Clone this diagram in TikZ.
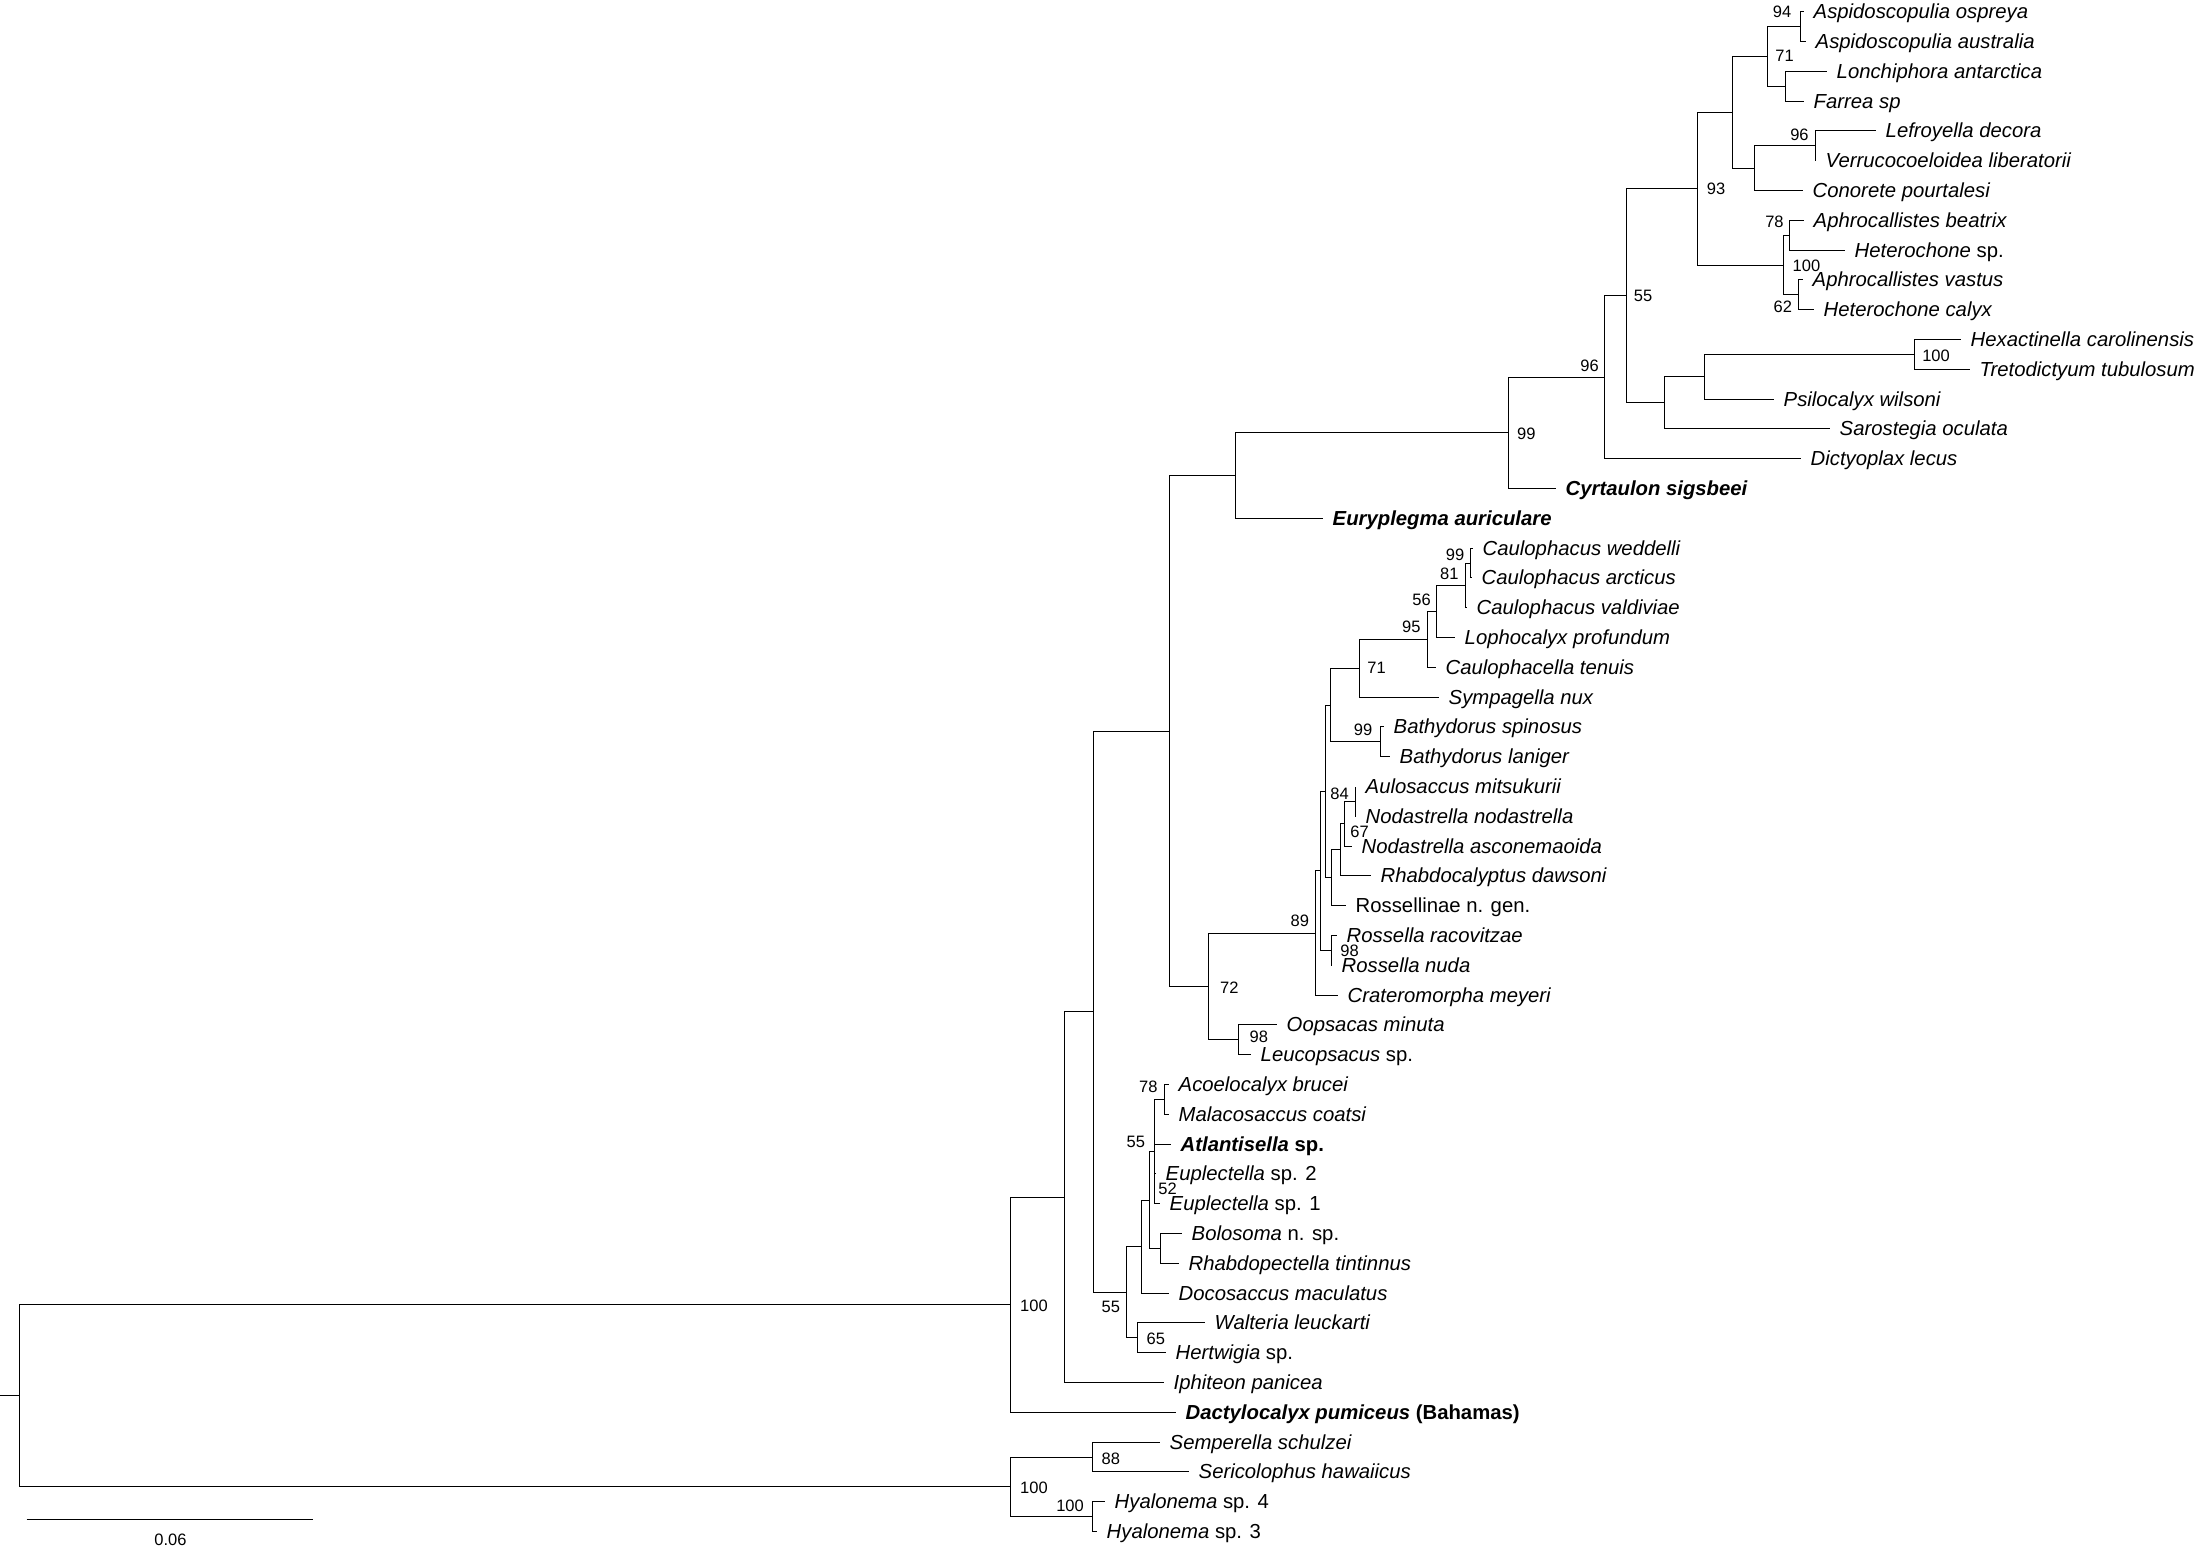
\documentclass[tikz,border=0pt]{standalone}
\usepackage{fontspec}
\setmainfont{Liberation Sans}
\newcommand\nd[3]{\pgfmathsetmacro\ndx{floor(#2)+0.5}\pgfmathsetmacro\ndy{floor(#3)+0.5}\coordinate (#1) at (\ndx,\ndy);}
\begin{document}
\begin{tikzpicture}[x=1bp,y=-1bp,
  br/.style={line width=1.3bp},
  tx/.style={anchor=base west, inner sep=0pt, xshift=10bp, yshift=-7bp, font=\fontsize{20.3bp}{24bp}\selectfont},
  bs/.style={anchor=base, inner sep=0pt, font=\fontsize{16.5bp}{19bp}\selectfont}]
\fill[white] (0,0) rectangle (2198,1553);
\useasboundingbox (0,0) rectangle (2198,1553);
% tips
\nd{t1}{1803.8}{11.7}
\nd{t2}{1805.5}{41.5}
\nd{t3}{1826.5}{71.3}
\nd{t4}{1803.8}{101.1}
\nd{t5}{1875.4}{130.9}
\nd{t6}{1815.5}{160.7}
\nd{t7}{1802}{190.5}
\nd{t8}{1803.8}{220.3}
\nd{t9}{1844}{250.1}
\nd{t10}{1802.7}{279.9}
\nd{t11}{1813.2}{309.7}
\nd{t12}{1960.8}{339.5}
\nd{t13}{1969.7}{369.3}
\nd{t14}{1773.8}{399.1}
\nd{t15}{1829.5}{428.9}
\nd{t16}{1800.5}{458.7}
\nd{t17}{1555}{488.5}
\nd{t18}{1322.3}{518.3}
\nd{t19}{1472}{548.1}
\nd{t20}{1471.5}{577.9}
\nd{t21}{1466}{607.7}
\nd{t22}{1454.1}{637.5}
\nd{t23}{1435}{667.3}
\nd{t24}{1438.8}{697.1}
\nd{t25}{1383.3}{726.9}
\nd{t26}{1389.1}{756.7}
\nd{t27}{1355.5}{786.5}
\nd{t28}{1355.5}{816.3}
\nd{t29}{1351.4}{846.1}
\nd{t30}{1370.6}{875.9}
\nd{t31}{1345.7}{905.7}
\nd{t32}{1336.1}{935.5}
\nd{t33}{1331.5}{965.3}
\nd{t34}{1337.3}{995.1}
\nd{t35}{1276.8}{1024.9}
\nd{t36}{1250}{1054.7}
\nd{t37}{1168.3}{1084.5}
\nd{t38}{1168.3}{1114.3}
\nd{t39}{1170}{1144.1}
\nd{t40}{1155}{1173.9}
\nd{t41}{1159.3}{1203.7}
\nd{t42}{1181}{1233.5}
\nd{t43}{1178.3}{1263.3}
\nd{t44}{1168.3}{1293.1}
\nd{t45}{1204}{1322.9}
\nd{t46}{1165}{1352.7}
\nd{t47}{1163.3}{1382.5}
\nd{t48}{1175}{1412.3}
\nd{t49}{1159.3}{1442.1}
\nd{t50}{1188.3}{1471.9}
\nd{t51}{1104.3}{1501.7}
\nd{t52}{1096.7}{1531.5}
% internal nodes
\nd{A}{1800.3}{26.6}
\nd{C}{1785.6}{86.2}
\nd{B}{1767.1}{56.4}
\nd{F}{1815}{145.8}
\nd{E}{1754.2}{168.2}
\nd{D}{1732.1}{112.3}
\nd{I}{1789.8}{235.2}
\nd{J}{1798.5}{294.8}
\nd{H}{1783.9}{265}
\nd{G}{1697.2}{188.65}
\nd{P}{1914}{354.4}
\nd{O}{1704.8}{376.75}
\nd{M}{1664.7}{402.8}
\nd{L}{1626}{295.7}
\nd{K}{1604.6}{377.2}
\nd{N}{1508}{432.85}
\nd{Q}{1235.3}{475.6}
\nd{Ca}{1470.6}{563}
\nd{Cb}{1465.6}{585.35}
\nd{Cc}{1436.9}{611.4}
\nd{Cd}{1427.3}{639.35}
\nd{Ce}{1359.2}{668.2}
\nd{Bd}{1380.3}{741.8}
\nd{Cf}{1330.9}{705}
\nd{Na}{1355.2}{801.4}
\nd{Nb}{1344.9}{823.75}
\nd{Nc}{1340.7}{849.8}
\nd{Nd}{1331.5}{877.75}
\nd{Ne}{1325.8}{791.4}
\nd{Ro}{1331.1}{950.4}
\nd{Nf}{1320.8}{870.9}
\nd{Ng}{1315.8}{933}
\nd{OL}{1238}{1039.8}
\nd{S}{1208.4}{986.4}
\nd{R}{1169.6}{731}
\nd{Am}{1164.3}{1099.4}
\nd{Eu}{1154.3}{1151.5}
\nd{Bo}{1160}{1248.4}
\nd{Ef}{1149.3}{1200}
\nd{Dg}{1141.7}{1246.6}
\nd{W}{1137.7}{1337.8}
\nd{Z}{1126}{1292.2}
\nd{X}{1093.3}{1011.6}
\nd{Y}{1064}{1197}
\nd{In}{1010.5}{1304.7}
\nd{Se}{1092.7}{1457}
\nd{Hy}{1092.7}{1516.6}
\nd{Out}{1010.5}{1486.8}
\nd{Rt}{19.6}{1395.7}
\nd{r0}{-1}{1395.7}
% branches
\draw[br] (r0) -- (Rt);
\foreach \p/\c in {Rt/In,Rt/Out,Out/Se,Out/Hy,Se/t49,Se/t50,Hy/t51,Hy/t52,
  In/Y,In/t48,Y/X,Y/t47,X/R,X/Z,Z/Dg,Z/W,W/t45,W/t46,Dg/Ef,Dg/t44,Ef/Eu,Ef/Bo,
  Bo/t42,Bo/t43,Eu/Am,Eu/t39,Eu/t40,Eu/t41,Am/t37,Am/t38,
  R/Q,R/S,S/Ng,S/OL,OL/t35,OL/t36,Ng/Nf,Ng/t34,Nf/Ne,Nf/Ro,Ro/t32,Ro/t33,
  Ne/Cf,Ne/Nd,Nd/Nc,Nd/t31,Nc/Nb,Nc/t30,Nb/Na,Nb/t29,Na/t27,Na/t28,
  Cf/Ce,Cf/Bd,Bd/t25,Bd/t26,Ce/Cd,Ce/t24,Cd/Cc,Cd/t23,Cc/Cb,Cc/t22,Cb/Ca,Cb/t21,Ca/t19,Ca/t20,
  Q/N,Q/t18,N/K,N/t17,K/L,K/t16,L/G,L/M,M/O,M/t15,O/P,O/t14,P/t12,P/t13,
  G/D,G/H,H/I,H/J,I/t8,I/t9,J/t10,J/t11,D/B,D/E,B/A,B/C,A/t1,A/t2,C/t3,C/t4,E/F,E/t7,F/t5,F/t6}
  \draw[br] (\p) |- (\c);
% tip names
\node[tx] (n1) at (t1) {\textit{Aspidoscopulia ospreya}};
\node[tx] (n2) at (t2) {\textit{Aspidoscopulia australia}};
\node[tx] (n3) at (t3) {\textit{Lonchiphora antarctica}};
\node[tx] (n4) at (t4) {\textit{Farrea sp}};
\node[tx] (n5) at (t5) {\textit{Lefroyella decora}};
\node[tx] (n6) at (t6) {\textit{Verrucocoeloidea liberatorii}};
\node[tx] (n7) at (t7) {\textit{Conorete pourtalesi}};
\node[tx] (n8) at (t8) {\textit{Aphrocallistes beatrix}};
\node[tx] (n9) at (t9) {\textit{Heterochone} sp.};
\node[tx] (n10) at (t10) {\textit{Aphrocallistes vastus}};
\node[tx] (n11) at (t11) {\textit{Heterochone calyx}};
\node[tx] (n12) at (t12) {\textit{Hexactinella carolinensis}};
\node[tx] (n13) at (t13) {\textit{Tretodictyum tubulosum}};
\node[tx] (n14) at (t14) {\textit{Psilocalyx wilsoni}};
\node[tx] (n15) at (t15) {\textit{Sarostegia oculata}};
\node[tx] (n16) at (t16) {\textit{Dictyoplax lecus}};
\node[tx] (n17) at (t17) {\textbf{\textit{Cyrtaulon sigsbeei}}};
\node[tx] (n18) at (t18) {\textbf{\textit{Euryplegma auriculare}}};
\node[tx] (n19) at (t19) {\textit{Caulophacus weddelli}};
\node[tx] (n20) at (t20) {\textit{Caulophacus arcticus}};
\node[tx] (n21) at (t21) {\textit{Caulophacus valdiviae}};
\node[tx] (n22) at (t22) {\textit{Lophocalyx profundum}};
\node[tx] (n23) at (t23) {\textit{Caulophacella tenuis}};
\node[tx] (n24) at (t24) {\textit{Sympagella nux}};
\node[tx] (n25) at (t25) {\textit{Bathydorus spinosus}};
\node[tx] (n26) at (t26) {\textit{Bathydorus laniger}};
\node[tx] (n27) at (t27) {\textit{Aulosaccus mitsukurii}};
\node[tx] (n28) at (t28) {\textit{Nodastrella nodastrella}};
\node[tx] (n29) at (t29) {\textit{Nodastrella asconemaoida}};
\node[tx] (n30) at (t30) {\textit{Rhabdocalyptus dawsoni}};
\node[tx] (n31) at (t31) {Rossellinae n. gen.};
\node[tx] (n32) at (t32) {\textit{Rossella racovitzae}};
\node[tx] (n33) at (t33) {\textit{Rossella nuda}};
\node[tx] (n34) at (t34) {\textit{Crateromorpha meyeri}};
\node[tx] (n35) at (t35) {\textit{Oopsacas minuta}};
\node[tx] (n36) at (t36) {\textit{Leucopsacus} sp.};
\node[tx] (n37) at (t37) {\textit{Acoelocalyx brucei}};
\node[tx] (n38) at (t38) {\textit{Malacosaccus coatsi}};
\node[tx] (n39) at (t39) {\textbf{\textit{Atlantisella} sp.}};
\node[tx] (n40) at (t40) {\textit{Euplectella} sp. 2};
\node[tx] (n41) at (t41) {\textit{Euplectella} sp. 1};
\node[tx] (n42) at (t42) {\textit{Bolosoma} n. sp.};
\node[tx] (n43) at (t43) {\textit{Rhabdopectella tintinnus}};
\node[tx] (n44) at (t44) {\textit{Docosaccus maculatus}};
\node[tx] (n45) at (t45) {\textit{Walteria leuckarti}};
\node[tx] (n46) at (t46) {\textit{Hertwigia} sp.};
\node[tx] (n47) at (t47) {\textit{Iphiteon panicea}};
\node[tx] (n48) at (t48) {\textbf{\textit{Dactylocalyx pumiceus} (Bahamas)}};
\node[tx] (n49) at (t49) {\textit{Semperella schulzei}};
\node[tx] (n50) at (t50) {\textit{Sericolophus hawaiicus}};
\node[tx] (n51) at (t51) {\textit{Hyalonema} sp. 4};
\node[tx] (n52) at (t52) {\textit{Hyalonema} sp. 3};
% support values
\foreach \x/\y/\v [count=\k] in {1782/11.7/94, 1784.5/56/71, 1799.4/135/96, 1716/188.3/93,
  1774.4/221.7/78, 1806.4/265/100, 1782.8/306.7/62, 1936/355/100, 1643/295.8/55,
  1589.5/365/96, 1526.3/433.3/99, 1455/554/99, 1449.3/573.3/81, 1421.6/599/56,
  1411.3/626.7/95, 1376.6/667.7/71, 1363/729.3/99, 1339.6/793.3/84, 1359.5/831.7/67,
  1349.5/950.7/98, 1299.8/920/89, 1258.8/1036/98, 1229.4/987/72, 1148.3/1086.7/78,
  1135.8/1141.7/55, 1167.5/1188.3/52, 1110.8/1306/55, 1155.8/1338.3/65, 1034/1305/100,
  1110.8/1458.3/88, 1034/1487.7/100, 1070/1505/100}
  \node[bs] (s\k) at (\x,\y+6) {\v};
% scale bar
\nd{sb1}{26.7}{1519}
\nd{sb2}{312.2}{1519}
\draw[br] (sb1) -- (sb2);
\node[bs] (sbl) at (170.5,1545.3) {0.06};
\end{tikzpicture}
\end{document}
